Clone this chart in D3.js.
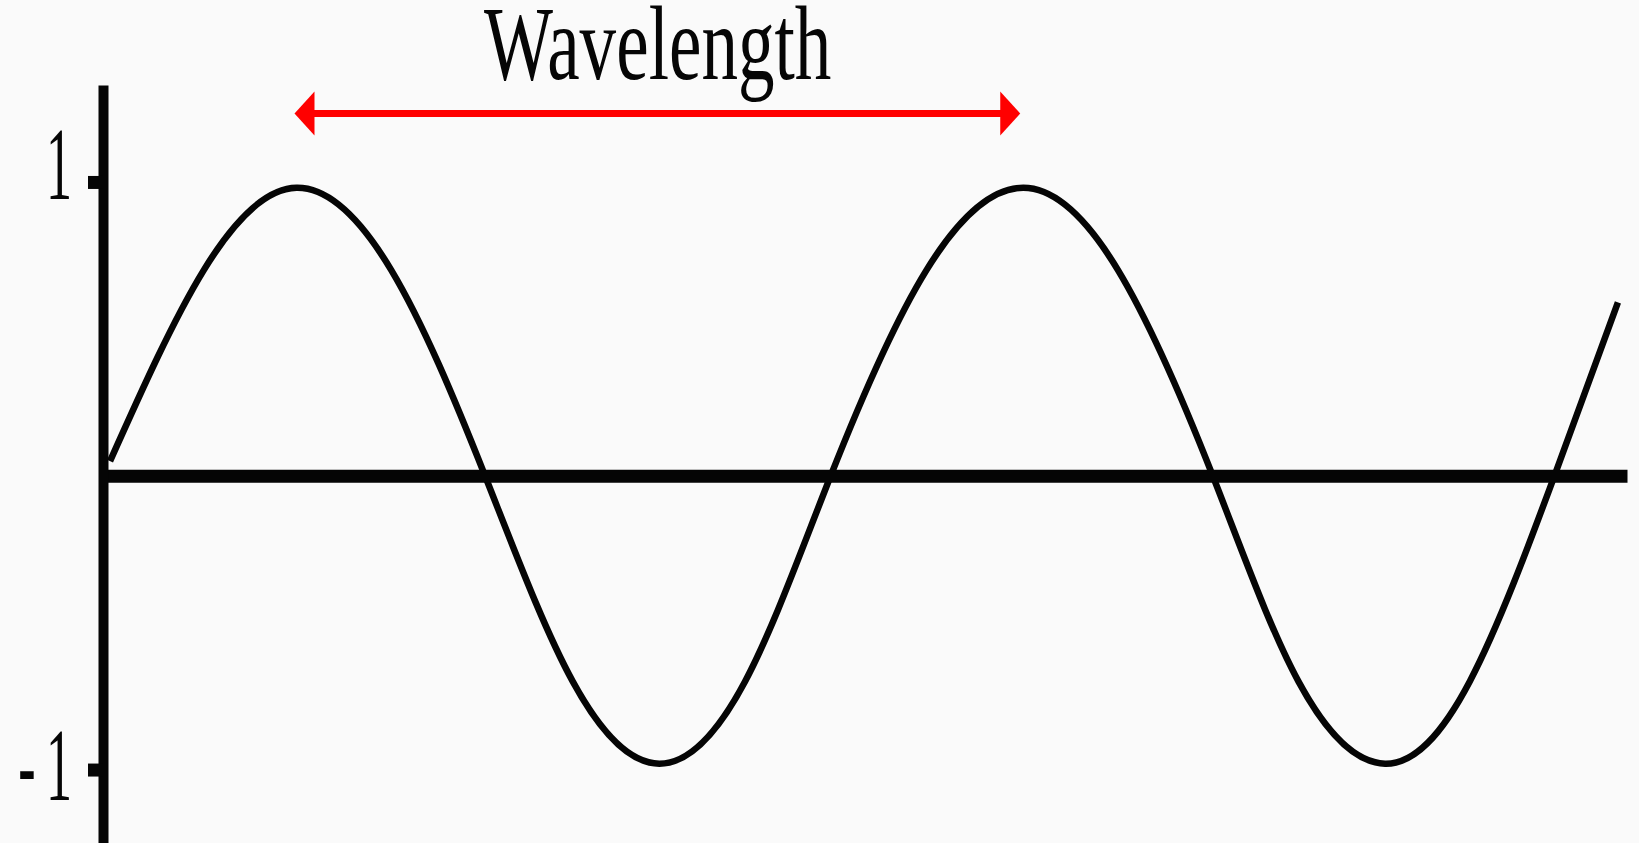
<!DOCTYPE html>
<html>
<head>
<meta charset="utf-8">
<script src="https://cdn.jsdelivr.net/npm/d3@7"></script>
<style>
    body { margin: 0; background: #fafafa; }
    svg { display: block; }
</style>
</head>
<body>
<div id="chart"></div>
<script>
// Wave samples (phase in degrees, displacement)
const phases = [-2.5, 44, 90, 137, 183.5, 227, 270, 312.5, 355, 402.5, 450.5, 497.5, 544.5, 587, 630, 672, 714, 745.5];
const values = [0.05, 0.70, 0.98, 0.70, 0, -0.70, -0.98, -0.70, 0, 0.70, 0.98, 0.70, 0, -0.70, -0.98, -0.70, 0, 0.59];

// Y tick values + labels
const yTickValues = [-1, 1];
const yTickLabels = ["-\u20091", "1"];

// Wavelength arrow (phase at each tip, peak to peak)
const arrowFrom = 89;
const arrowTo = 449;
const title = "Wavelength";

const width = 1639, height = 843;

const svg = d3.select("#chart")
    .append("svg")
    .attr("width", width)
    .attr("height", height);

svg.append("rect")
    .attr("width", width)
    .attr("height", height)
    .attr("fill", "#fafafa");

// Scales
const x = d3.scaleLinear()
    .domain([-6, 750])
    .range([103, 1627]);

const y = d3.scaleLinear()
    .domain([-1.25, 1.33])
    .range([843, 85]);

const data = phases.map((p, i) => ({ phase: p, value: values[i] }));

// Wave
const line = d3.line()
    .x(d => x(d.phase))
    .y(d => y(d.value))
    .curve(d3.curveNatural);

svg.append("path")
    .datum(data)
    .attr("fill", "none")
    .attr("stroke", "#050505")
    .attr("stroke-width", 6.5)
    .attr("d", line);

// X axis (plain thick line through zero)
const xAxis = svg.append("g")
    .attr("transform", `translate(0,${y(0)})`)
    .call(d3.axisBottom(x).tickValues([]).tickSizeOuter(0));
xAxis.select(".domain")
    .attr("stroke", "#050505")
    .attr("stroke-width", 13);

// Y axis
const yAxis = svg.append("g")
    .attr("transform", `translate(${x(-6)},0)`)
    .call(d3.axisLeft(y)
        .tickValues(yTickValues)
        .tickFormat((d, i) => yTickLabels[i])
        .tickSize(15)
        .tickSizeOuter(0));

yAxis.select(".domain")
    .attr("stroke", "#050505")
    .attr("stroke-width", 10);

yAxis.selectAll(".tick line")
    .attr("stroke", "#050505")
    .attr("stroke-width", 13);

yAxis.selectAll(".tick text")
    .attr("x", 0)
    .attr("dy", null)
    .attr("text-anchor", "end")
    .attr("transform", d => `translate(-31,${d > 0 ? 17 : 30}) scale(0.5,1)`)
    .attr("font-family", "'Liberation Serif', 'DejaVu Serif', serif")
    .attr("font-size", 104)
    .attr("fill", "#050505");

// Arrow
const arrowY = 113.5;
const headLen = 20, headHalf = 22;

svg.append("line")
    .attr("x1", x(arrowFrom) + headLen - 2)
    .attr("x2", x(arrowTo) - headLen + 2)
    .attr("y1", arrowY)
    .attr("y2", arrowY)
    .attr("stroke", "#ff0000")
    .attr("stroke-width", 7);

svg.selectAll(".arrow-head")
    .data([{ tip: arrowFrom, dir: 1 }, { tip: arrowTo, dir: -1 }])
    .enter()
    .append("path")
    .attr("class", "arrow-head")
    .attr("fill", "#ff0000")
    .attr("d", d => {
        const tx = x(d.tip);
        const bx = tx + d.dir * headLen;
        return `M${tx},${arrowY} L${bx},${arrowY - headHalf} L${bx},${arrowY + headHalf} Z`;
    });

// Title
svg.append("text")
    .attr("transform", "translate(484,79) scale(0.69,1)")
    .attr("font-family", "'Liberation Serif', 'DejaVu Serif', serif")
    .attr("font-size", 106)
    .attr("fill", "#050505")
    .text(title);
</script>
</body>
</html>
